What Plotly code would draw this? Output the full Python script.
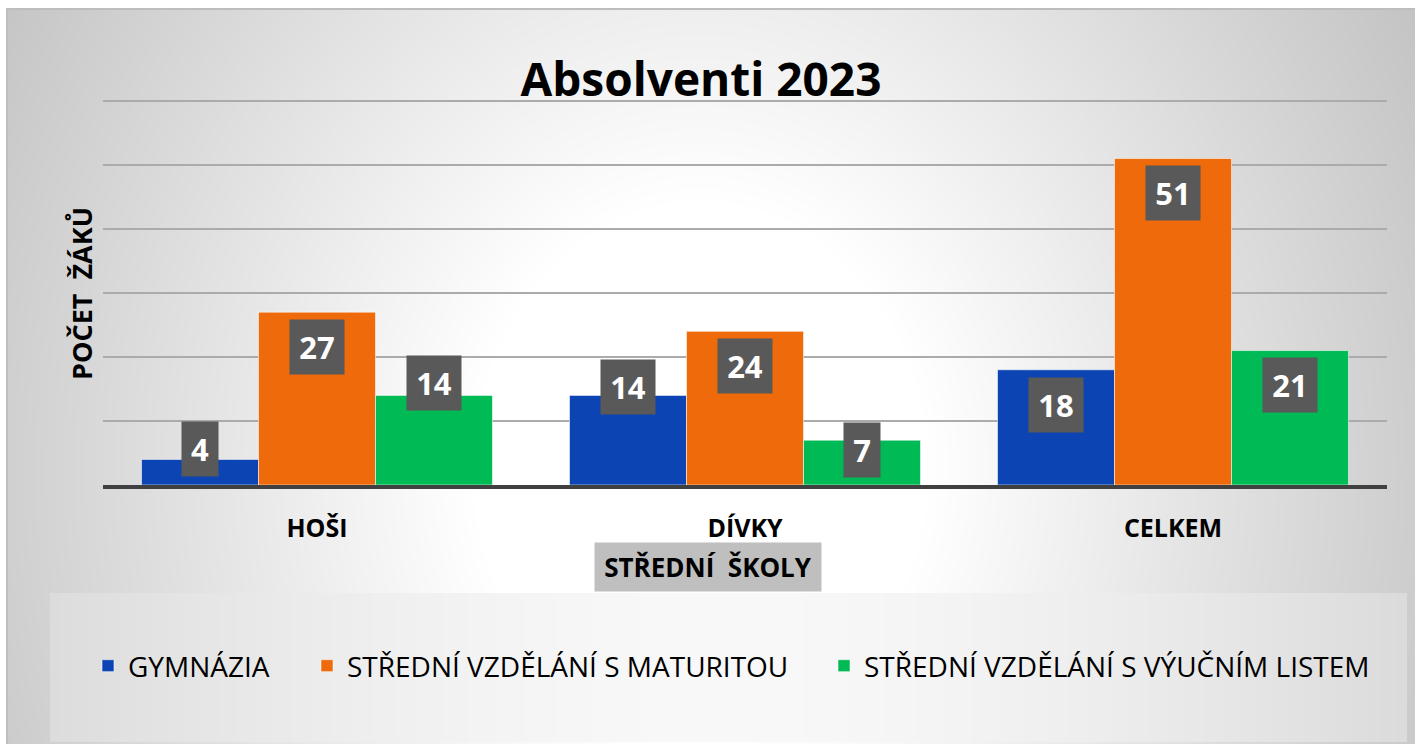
import base64
import struct
import zlib

import numpy as np
import plotly.graph_objects as go

# ---------------- data ----------------
categories = ["HOŠI", "DÍVKY", "CELKEM"]
series_names = [
    "GYMNÁZIA",
    "STŘEDNÍ VZDĚLÁNÍ S MATURITOU",
    "STŘEDNÍ VZDĚLÁNÍ S VÝUČNÍM LISTEM",
]
gymnazia = [4, 14, 18]
maturita = [27, 24, 51]
vyucni_list = [14, 7, 21]

# ---------------- styles ----------------
series_values = [gymnazia, maturita, vyucni_list]
series_colors = ["#0C45B3", "#EE6A0A", "#00BA55"]
legend_ids = ["legend", "legend2", "legend3"]
# vertical shift (px) of each data label's box centre relative to the bar top
label_shift = [[10, 8, -35], [-35, -35, -34], [12, -10, -34]]

W, H = 1415, 744
YMAX = 60.3
ML, MR, MT, MB = 103, 28, 99, 259
PW, PH = W - ML - MR, H - MT - MB
FONT = "Open Sans"
BARGAP = 0.18


# ---------------- background gradient image ----------------
def png_gray(img):
    h, w = img.shape
    raw = b"".join(b"\x00" + img[r].tobytes() for r in range(h))

    def chunk(tag, data):
        c = struct.pack(">I", len(data)) + tag + data
        return c + struct.pack(">I", zlib.crc32(tag + data) & 0xFFFFFFFF)

    return (
        b"\x89PNG\r\n\x1a\n"
        + chunk(b"IHDR", struct.pack(">IIBBBBB", w, h, 8, 0, 0, 0, 0))
        + chunk(b"IDAT", zlib.compress(raw, 9))
        + chunk(b"IEND", b"")
    )


yy, xx = np.mgrid[0:H, 0:W].astype(float)
d = np.sqrt(((xx - 700) / 760) ** 2 + ((yy - 470) / 900) ** 2)
t = np.clip((d - 0.3) / 0.85, 0, 1)
bg = 255 - 65 * t
# legend panel
box = (xx >= 50) & (xx < 1407) & (yy >= 593) & (yy < 742)
lv = 249 - 30 * np.clip(np.abs(xx - 720) / 690, 0, 1) ** 1.6
bg = np.where(box, lv, bg)
# outer frame
bg = np.where((xx < 8) | (yy < 10), 189, bg)
bg = np.where((xx < 6) | (yy < 8), 255, bg)
img = np.clip(bg, 0, 255).astype(np.uint8)
bg_src = "data:image/png;base64," + base64.b64encode(png_gray(img)).decode()

# ---------------- figure ----------------
fig = go.Figure()
xpos = list(range(len(categories)))
bw = (1 - BARGAP) / len(series_values)

for i, (name, vals, col) in enumerate(zip(series_names, series_values, series_colors)):
    fig.add_trace(
        go.Bar(
            x=xpos,
            y=vals,
            name=name,
            marker=dict(color=col, line=dict(color="rgba(255,255,255,0.55)", width=1)),
            legend=legend_ids[i],
            showlegend=True,
            hoverinfo="skip",
        )
    )
    for c, v in enumerate(vals):
        txt = str(v)
        fig.add_annotation(
            x=c + (i - (len(series_values) - 1) / 2) * bw,
            y=v,
            xref="x",
            yref="y",
            text=txt,
            showarrow=False,
            yanchor="middle",
            yshift=label_shift[i][c],
            width=18 * len(txt) + 18,
            height=54,
            borderpad=0,
            font=dict(family=FONT, size=31, color="white", weight="bold"),
            bgcolor="#595959",
        )

# y axis title
fig.add_annotation(
    x=-(ML - 81) / PW,
    y=(MT + PH - 294) / PH,
    xref="paper",
    yref="paper",
    text="POČET\u00a0\u00a0ŽÁKŮ",
    textangle=-90,
    showarrow=False,
    xanchor="center",
    yanchor="middle",
    font=dict(family=FONT, size=27, color="black", weight="bold"),
)
# x axis title with grey box
fig.add_annotation(
    x=(708 - ML) / PW,
    y=-(567 - MT - PH) / PH,
    xref="paper",
    yref="paper",
    text="STŘEDNÍ\u00a0\u00a0ŠKOLY",
    showarrow=False,
    xanchor="center",
    yanchor="middle",
    width=218,
    height=40,
    bgcolor="#BFBFBF",
    borderpad=4,
    font=dict(family=FONT, size=26, color="black", weight="bold"),
)

legend_left_px = [88, 307, 824]
legend_style = dict(
    orientation="h",
    xanchor="left",
    yanchor="middle",
    y=-(666 - MT - PH) / PH,
    bgcolor="rgba(0,0,0,0)",
    font=dict(family=FONT, size=28, color="black"),
)
legends = {
    lid: dict(legend_style, x=(lx - ML) / PW)
    for lid, lx in zip(legend_ids, legend_left_px)
}

fig.update_layout(
    width=W,
    height=H,
    margin=dict(l=ML, r=MR, t=MT, b=MB, pad=0),
    paper_bgcolor="white",
    plot_bgcolor="rgba(0,0,0,0)",
    showlegend=True,
    barmode="group",
    bargap=BARGAP,
    bargroupgap=0,
    title=dict(
        text="Absolventi 2023",
        x=701 / W,
        xanchor="center",
        xref="container",
        y=1 - 80 / H,
        yref="container",
        yanchor="middle",
        font=dict(family=FONT, size=46, color="black", weight="bold"),
    ),
    xaxis=dict(
        range=[-0.5, 2.5],
        tickvals=xpos,
        ticktext=categories,
        showgrid=False,
        zeroline=False,
        showline=True,
        linecolor="#404040",
        linewidth=4,
        ticks="",
        ticklabelstandoff=18,
        tickfont=dict(family=FONT, size=25, color="black", weight="bold"),
    ),
    yaxis=dict(
        range=[0, YMAX],
        tickvals=[10, 20, 30, 40, 50, 60],
        showticklabels=False,
        showgrid=True,
        gridcolor="#ABABAB",
        gridwidth=1.5,
        zeroline=False,
        ticks="",
    ),
    images=[
        dict(
            source=bg_src,
            xref="paper",
            yref="paper",
            x=-ML / PW,
            y=1 + MT / PH,
            sizex=W / PW,
            sizey=H / PH,
            xanchor="left",
            yanchor="top",
            sizing="stretch",
            layer="below",
        )
    ],
    **legends,
)

fig.write_html(
    "out.html",
    config={"displayModeBar": False},
    post_script="document.body.style.margin='0';document.body.style.overflow='hidden';",
)
